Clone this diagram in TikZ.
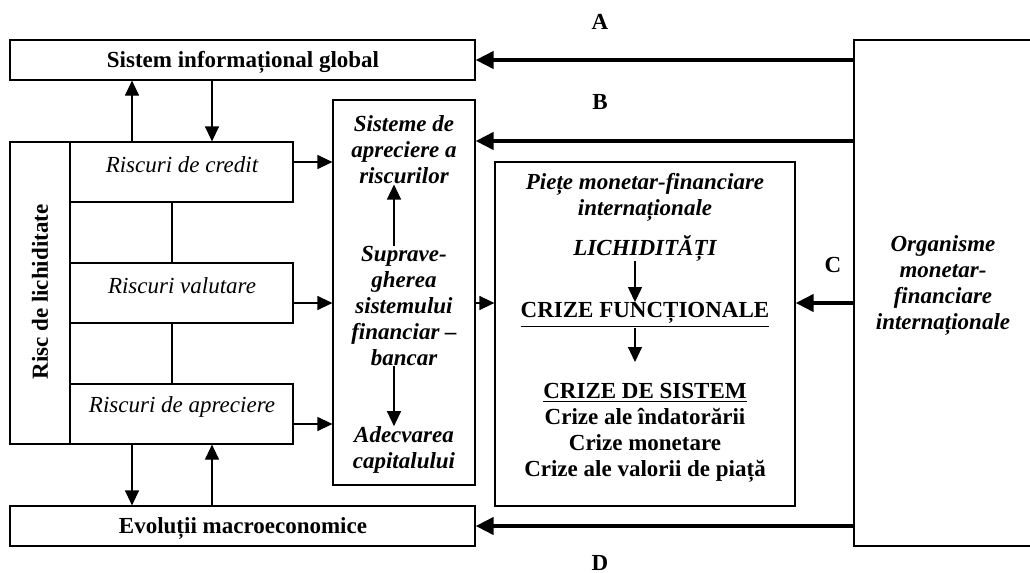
\documentclass[tikz,border=0pt]{standalone}
\usepackage{fontspec}
\setmainfont{Liberation Serif}
\usetikzlibrary{arrows.meta,fit}
\newcommand{\fsz}{\fontsize{11.5}{13}\selectfont}
\begin{document}
\begin{tikzpicture}[x=0.5pt,y=-0.5pt,
  box/.style={draw, line width=0.6pt, inner sep=0pt},
  lbl/.style={inner sep=0pt, align=center},
  bf/.style={lbl, font=\fsz\bfseries},
  it/.style={lbl, font=\fsz\itshape},
  bi/.style={lbl, font=\fsz\bfseries\itshape},
  arr/.style={line width=0.6pt, -{Triangle[length=7.5pt,width=7pt]}},
  thin/.style={line width=0.6pt},
  thickarr/.style={line width=2pt, -{Triangle[length=9pt,width=8.5pt]}}]
\useasboundingbox (0,0) rectangle (1030,573);
% corner coordinates
\coordinate (s1) at (10,40);   \coordinate (s2) at (475,80);
\coordinate (e1) at (10,506);  \coordinate (e2) at (475,546);
\coordinate (r1) at (10,142);  \coordinate (r2) at (70,444);
\coordinate (c1) at (70,142);  \coordinate (c2) at (293,202);
\coordinate (v1) at (70,263);  \coordinate (v2) at (293,323);
\coordinate (a1) at (70,384);  \coordinate (a2) at (293,444);
\coordinate (m1) at (333,100); \coordinate (m2) at (475,485);
\coordinate (p1) at (495,162); \coordinate (p2) at (795,506);
\coordinate (o1) at (854,40);  \coordinate (o2) at (1040,546);
% boxes
\node[box, fit=(s1)(s2)] (sig) {};
\node[bf] (sigt) at (243,62) {Sistem informațional global};
\node[box, fit=(e1)(e2)] (evo) {};
\node[bf] (evot) at (243,528) {Evoluții macroeconomice};
\node[box, fit=(r1)(r2)] (risc) {};
\node[bf, rotate=90] (risct) at (40,292) {Risc de lichiditate};
\node[box, fit=(c1)(c2)] (rc) {};
\node[box, fit=(v1)(v2)] (rv) {};
\node[box, fit=(a1)(a2)] (ra) {};
\node[it] (rct) at (182,165) {Riscuri de credit};
\node[it] (rvt) at (182,286) {Riscuri valutare};
\node[it] (rat) at (182,407) {Riscuri de apreciere};
\node[box, fit=(m1)(m2)] (mid) {};
\node[bi] (sis) at (404,150) {Sisteme de\\ apreciere a\\ riscurilor};
\node[bi] (sup) at (404,306) {Suprave-\\ gherea\\ sistemului\\ financiar --\\ bancar};
\node[bi] (ade) at (404,450) {Adecvarea\\ capitalului};
\node[box, fit=(p1)(p2)] (pie) {};
\node[bi] (piet) at (645,197) {Piețe monetar-financiare\\ internaționale};
\node[bi] (lich) at (645,248) {LICHIDITĂȚI};
\node[bf] (cf) at (645,315) {\underline{CRIZE FUNCȚIONALE}};
\node[bf] (cs) at (645,433) {\underline{CRIZE DE SISTEM}\\ Crize ale îndatorării\\ Crize monetare\\ Crize ale valorii de piață};
\node[box, fit=(o1)(o2)] (org) {};
\node[bi] (orgt) at (943,285) {Organisme\\ monetar-\\ financiare\\ internaționale};
% letters
\node[bf] (la) at (600,22) {A};
\node[bf] (lb) at (600,102) {B};
\node[bf] (lc) at (833,265) {C};
\node[bf] (ld) at (600,563) {D};
% helper coordinates
\coordinate (xa) at (132,0);
\coordinate (xb) at (212,0);
\coordinate (xc) at (172,0);
\coordinate (xm) at (394,0);
\coordinate (xp) at (635,0);
\coordinate (yb) at (0,141);
\coordinate (yc) at (0,303);
\coordinate (y1) at (0,162);
\coordinate (y3) at (0,424);
\coordinate (ptip) at (635,362);
% vertical arrows
\draw[arr] (xa |- rc.north) -- (xa |- sig.south);
\draw[arr] (xb |- sig.south) -- (xb |- rc.north);
\draw[arr] (xa |- ra.south) -- (xa |- evo.north);
\draw[arr] (xb |- evo.north) -- (xb |- ra.south);
\draw[thin] (xc |- rc.south) -- (xc |- rv.north);
\draw[thin] (xc |- rv.south) -- (xc |- ra.north);
% risks to mid
\draw[arr] (rc.east |- y1) -- (mid.west |- y1);
\draw[arr] (rv.east |- yc) -- (mid.west |- yc);
\draw[arr] (ra.east |- y3) -- (mid.west |- y3);
\draw[arr] (mid.east |- yc) -- (pie.west |- yc);
% inside mid
\draw[arr] (xm |- sup.north) -- (xm |- sis.south);
\draw[arr] (xm |- sup.south) -- (xm |- ade.north);
% inside pie
\draw[arr] (xp |- lich.south) -- (xp |- cf.north);
\draw[arr] (xp |- cf.south) -- (ptip);
% thick arrows
\draw[thickarr] (org.west |- sig.east) -- (sig.east);
\draw[thickarr] (org.west |- yb) -- (mid.east |- yb);
\draw[thickarr] (org.west |- yc) -- (pie.east |- yc);
\draw[thickarr] (org.west |- evo.east) -- (evo.east);
\end{tikzpicture}
\end{document}
